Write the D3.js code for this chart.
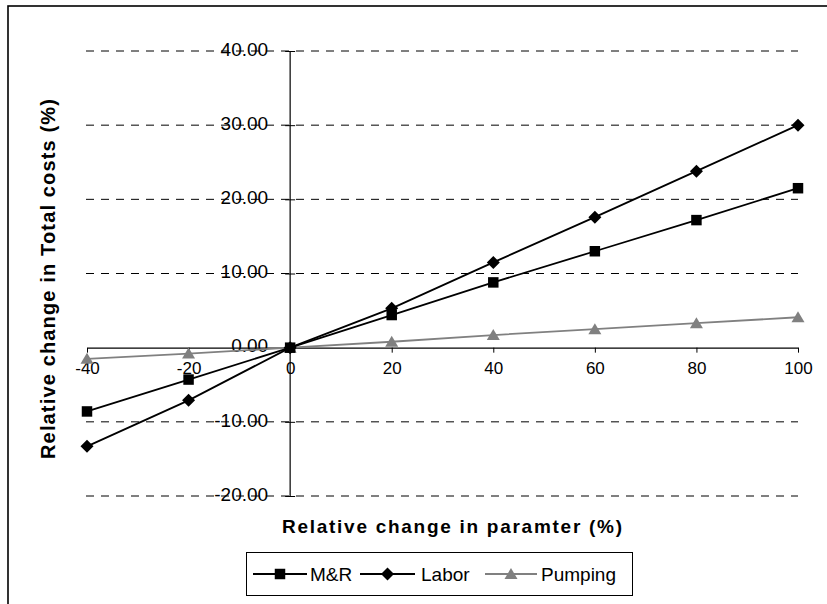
<!DOCTYPE html>
<html>
<head>
<meta charset="utf-8">
<script src="https://cdn.jsdelivr.net/npm/d3@7"></script>
<style>
  html, body { margin: 0; padding: 0; background: #fff; }
  svg { display: block; font-family: "Liberation Sans", Arial, sans-serif; }
</style>
</head>
<body>
<svg id="chart" width="827" height="604"></svg>
<script>
// Sensitivity of total costs to a change in each cost parameter
const changes = [-40, -20, 0, 20, 40, 60, 80, 100];
const mrValues = [-8.6, -4.3, 0, 4.4, 8.8, 13.0, 17.2, 21.5];
const laborValues = [-13.3, -7.1, 0, 5.3, 11.5, 17.6, 23.8, 30.0];
const pumpingValues = [-1.5, -0.8, 0, 0.8, 1.7, 2.5, 3.3, 4.1];
const seriesNames = ["M&R", "Labor", "Pumping"];
const xTicks = [-40, -20, 0, 20, 40, 60, 80, 100];
const yTicks = [-20, -10, 0, 10, 20, 30, 40];

const svg = d3.select("#chart");

const x = d3.scaleLinear().domain([-40, 100]).range([87, 798]);
const y = d3.scaleLinear().domain([-20, 40]).range([496, 51]);

// outer chart frame (runs past the right and bottom edges)
svg.append("rect")
  .attr("x", 8).attr("y", 6).attr("width", 900).attr("height", 700)
  .attr("fill", "none").attr("stroke", "#000").attr("stroke-width", 1.6);

// dashed horizontal gridlines
svg.append("g").selectAll("line")
  .data(yTicks.filter(v => v !== 0))
  .join("line")
  .attr("x1", x(-40) - 1).attr("x2", x(100))
  .attr("y1", d => y(d)).attr("y2", d => y(d))
  .attr("stroke", "#000").attr("stroke-width", 1)
  .attr("stroke-dasharray", "8,7");

// y axis crossing the x axis at 0
const yAxis = svg.append("g")
  .attr("transform", `translate(${x(0)},0)`)
  .call(d3.axisLeft(y).tickValues(yTicks).tickFormat(d => d.toFixed(2))
    .tickSizeInner(5).tickSizeOuter(0).tickPadding(17));
yAxis.select(".domain").remove();
yAxis.selectAll(".tick line").attr("x1", 5).attr("stroke", "#000");
yAxis.selectAll(".tick text")
  .attr("font-size", 19).attr("fill", "#000").attr("dy", "0.22em")
  .attr("font-family", "Liberation Sans, Arial, sans-serif");
yAxis.append("line")
  .attr("x1", 0).attr("x2", 0).attr("y1", y(-20)).attr("y2", y(40))
  .attr("stroke", "#000").attr("stroke-width", 1.2);

// x axis along zero
const xAxis = svg.append("g")
  .attr("transform", `translate(0,${y(0)})`)
  .call(d3.axisBottom(x).tickValues(xTicks).tickFormat(d => String(d))
    .tickSizeInner(5).tickSizeOuter(0).tickPadding(9));
xAxis.select(".domain").attr("stroke", "#000").attr("stroke-width", 1.2);
xAxis.selectAll(".tick line").attr("stroke", "#000");
xAxis.selectAll(".tick text")
  .attr("font-size", 17).attr("fill", "#000")
  .attr("font-family", "Liberation Sans, Arial, sans-serif");

// axis titles
svg.append("text")
  .attr("x", 452).attr("y", 533)
  .attr("text-anchor", "middle")
  .attr("font-size", 19).attr("font-weight", "bold")
  .attr("textLength", 340).attr("lengthAdjust", "spacing")
  .text("Relative change in paramter (%)");

svg.append("text")
  .attr("transform", "translate(55,279) rotate(-90)")
  .attr("text-anchor", "middle")
  .attr("font-size", 20).attr("font-weight", "bold")
  .attr("textLength", 360).attr("lengthAdjust", "spacing")
  .text("Relative change in Total costs (%)");

// marker shapes
const markerPath = {
  square: d3.symbol().type(d3.symbolSquare).size(110)(),
  diamond: "M0,-6.5L6.5,0L0,6.5L-6.5,0Z",
  triangle: "M0,-6L6.5,5L-6.5,5Z"
};

const series = [
  { name: seriesNames[0], values: mrValues, color: "#000", marker: "square" },
  { name: seriesNames[1], values: laborValues, color: "#000", marker: "diamond" },
  { name: seriesNames[2], values: pumpingValues, color: "#808080", marker: "triangle" }
];

const line = d3.line().x(d => x(d[0])).y(d => y(d[1]));

// draw pumping first so the black series sit on top
[series[2], series[0], series[1]].forEach(s => {
  const pts = changes.map((c, i) => [c, s.values[i]]);
  svg.append("path")
    .datum(pts)
    .attr("d", line)
    .attr("fill", "none")
    .attr("stroke", s.color)
    .attr("stroke-width", 1.8);
  svg.append("g").selectAll("path")
    .data(pts)
    .join("path")
    .attr("transform", d => `translate(${x(d[0])},${y(d[1])})`)
    .attr("d", markerPath[s.marker])
    .attr("fill", s.color);
});

// legend
const legend = svg.append("g");
legend.append("rect")
  .attr("x", 246.5).attr("y", 552.5).attr("width", 386).attr("height", 43)
  .attr("fill", "#fff").attr("stroke", "#000").attr("stroke-width", 1);

const legendItems = [
  { s: series[0], x0: 253, x1: 307, tx: 310 },
  { s: series[1], x0: 360, x1: 415, tx: 421 },
  { s: series[2], x0: 485, x1: 537, tx: 541 }
];
const ly = 574;
legendItems.forEach(it => {
  legend.append("line")
    .attr("x1", it.x0).attr("x2", it.x1).attr("y1", ly).attr("y2", ly)
    .attr("stroke", it.s.color).attr("stroke-width", 1.8);
  legend.append("path")
    .attr("transform", `translate(${(it.x0 + it.x1) / 2},${ly})`)
    .attr("d", markerPath[it.s.marker])
    .attr("fill", it.s.color);
  legend.append("text")
    .attr("x", it.tx).attr("y", ly + 7)
    .attr("font-size", 19)
    .text(it.s.name);
});
</script>
</body>
</html>
